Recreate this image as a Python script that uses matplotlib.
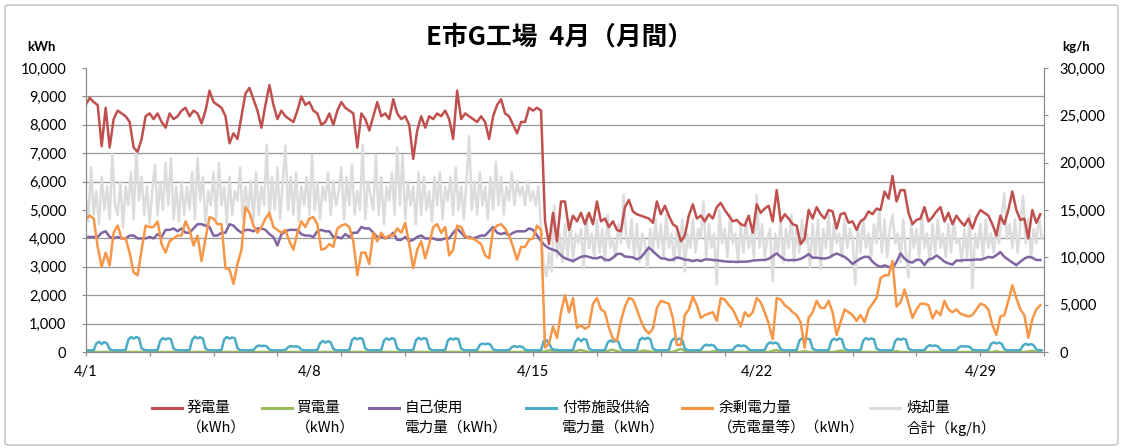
import numpy as np
import matplotlib
matplotlib.use("Agg")
import matplotlib.pyplot as plt
from matplotlib.lines import Line2D
from matplotlib.patches import FancyBboxPatch
from matplotlib.ticker import FixedLocator, FixedFormatter, NullFormatter, FuncFormatter

# ---------------- data (hours from 4/1 0:00) ----------------
STEP3 = 3   # hours between samples of the 3-hour series
STEP2 = 2   # hours between samples of the 2-hour series

date_labels = ["4/1", "4/8", "4/15", "4/22", "4/29"]
date_label_hours = [0, 168, 336, 504, 672]

# 発電量 (kWh), every 3 h
gen = [
    8700, 8950, 8800, 8700, 7250, 8600, 7200, 8200, 8500, 8400,
    8300, 8100, 7200, 7050, 7500, 8300, 8400, 8200, 8400, 8100,
    7900, 8400, 8200, 8300, 8500, 8600, 8300, 8500, 8400, 8050,
    8500, 9200, 8800, 8700, 8600, 8300, 7350, 7700, 7500, 8300,
    9100, 9300, 8900, 8500, 7900, 8700, 9400, 8700, 8200, 8500,
    8300, 8200, 8100, 8500, 9000, 8700, 8800, 8500, 8400, 8000,
    8100, 8400, 8000, 8500, 8800, 8600, 8500, 8400, 7200, 8400,
    8200, 7800, 8300, 8800, 8300, 8400, 8200, 8900, 8400, 8200,
    8300, 8000, 6800, 7800, 8300, 7900, 8300, 8200, 8400, 8300,
    8500, 8200, 7500, 9200, 8200, 8400, 8300, 8200, 8100, 8300,
    8100, 7500, 8300, 8700, 8900, 8400, 8300, 8000, 7700, 8100,
    8100, 8600, 8500, 8600, 8500, 4600, 3800, 4900, 3900, 5300,
    5300, 4300, 4800, 4600, 4900, 4500, 4900, 4500, 5300, 4600,
    4700, 4400, 4600, 4300, 4250, 5100, 5350, 4950, 4850, 4800,
    4750, 4700, 4550, 5300, 4850, 5150, 4800, 4500, 4400, 3900,
    4100, 4800, 5200, 4700, 4800, 4600, 4850, 4700, 5100, 5250,
    5000, 4800, 4600, 4650, 4500, 4450, 4800, 4200, 5200, 4900,
    5050, 5150, 4600, 5700, 4600, 4850, 4700, 4500, 4450, 3800,
    4000, 5000, 4700, 5100, 4850, 4700, 5000, 4950, 4350, 4850,
    4900, 4550, 4600, 4300, 4600, 4700, 4950, 4850, 5050, 5000,
    5650, 5400, 6200, 5300, 5700, 5700, 4900, 4500, 4650, 4700,
    5100, 4600, 4750, 4950, 5100, 4600, 4900, 4500, 4800, 4600,
    4450, 4700, 4350, 4750, 5000, 4900, 4800, 4500, 4100, 4800,
    4500, 5000, 5650, 5000, 4650, 4700, 4000, 5000, 4550, 4850,
]

# 買電量 (kWh), every 3 h
buy = [
    0, 0, 0, 0, 0, 0, 0, 0, 0, 0,
    0, 0, 0, 0, 0, 0, 0, 0, 0, 0,
    0, 0, 0, 0, 0, 0, 0, 0, 0, 0,
    0, 0, 0, 0, 0, 0, 0, 0, 0, 0,
    0, 0, 0, 0, 0, 0, 0, 0, 0, 0,
    0, 0, 0, 0, 0, 0, 0, 0, 0, 0,
    0, 0, 0, 0, 0, 0, 0, 0, 0, 0,
    0, 0, 0, 0, 0, 0, 0, 0, 0, 0,
    0, 0, 0, 0, 0, 0, 0, 0, 0, 0,
    0, 0, 0, 0, 0, 0, 0, 0, 0, 0,
    0, 0, 0, 0, 0, 0, 0, 0, 0, 0,
    0, 0, 0, 0, 0, 20, 60, 30, 0, 0,
    0, 0, 0, 40, 70, 30, 0, 0, 0, 0,
    0, 50, 80, 30, 0, 0, 0, 0, 0, 30,
    50, 20, 0, 0, 0, 0, 0, 0, 60, 110,
    40, 0, 0, 0, 0, 0, 0, 20, 40, 0,
    0, 0, 0, 0, 0, 0, 0, 0, 0, 30,
    0, 0, 40, 70, 0, 0, 0, 0, 0, 0,
    30, 0, 0, 0, 0, 0, 0, 0, 20, 50,
    20, 0, 0, 0, 0, 0, 0, 0, 0, 0,
    0, 0, 0, 30, 0, 0, 0, 0, 0, 0,
    0, 0, 0, 0, 0, 0, 0, 0, 0, 0,
    0, 0, 0, 0, 0, 0, 0, 0, 30, 0,
    0, 0, 0, 0, 0, 0, 20, 40, 0, 0,
]

# 自己使用電力量 (kWh), every 3 h
selfuse = [
    4050, 4050, 4050, 4050, 4200, 4250, 4050, 4000, 4050, 4000,
    4000, 4100, 4100, 4000, 4000, 4000, 4050, 4000, 4150, 4050,
    4300, 4300, 4350, 4250, 4350, 4200, 4200, 4350, 4500, 4500,
    4450, 4400, 4100, 4100, 4200, 4200, 4500, 4450, 4300, 4200,
    4300, 4300, 4250, 4350, 4350, 4300, 4150, 4050, 3750, 4150,
    4250, 4300, 4300, 4300, 4150, 4100, 4100, 4050, 4250, 4300,
    4250, 4250, 4050, 4050, 4000, 4150, 4050, 4200, 4200, 4400,
    4350, 4350, 4200, 4050, 4050, 4000, 4050, 4200, 3950, 3950,
    4050, 3900, 3950, 4050, 4100, 4000, 4000, 4000, 3950, 3950,
    4000, 4000, 4200, 4350, 4200, 4050, 4050, 4000, 4050, 4100,
    4100, 4250, 4400, 4200, 4150, 4200, 4100, 4200, 4250, 4250,
    4250, 4350, 4300, 4100, 3900, 3750, 3650, 3600, 3550, 3400,
    3300, 3250, 3200, 3280, 3350, 3380, 3350, 3300, 3300, 3350,
    3250, 3230, 3320, 3450, 3460, 3360, 3350, 3330, 3260, 3330,
    3500, 3680, 3550, 3420, 3300, 3290, 3240, 3250, 3330, 3300,
    3250, 3240, 3200, 3240, 3200, 3260, 3260, 3240, 3230, 3210,
    3190, 3180, 3180, 3170, 3180, 3180, 3190, 3220, 3230, 3240,
    3240, 3280, 3380, 3470, 3350, 3250, 3230, 3240, 3240, 3280,
    3350, 3450, 3320, 3320, 3300, 3290, 3320, 3400, 3470, 3410,
    3350, 3240, 3100, 3200, 3290, 3350, 3350, 3180, 3060, 3000,
    3050, 3000, 2950, 3170, 3470, 3290, 3180, 3150, 3250, 3240,
    3060, 3260, 3290, 3400, 3300, 3180, 3120, 3080, 3220, 3220,
    3240, 3240, 3240, 3260, 3250, 3290, 3350, 3320, 3410, 3520,
    3350, 3250, 3150, 3060, 3180, 3290, 3350, 3320, 3240, 3240,
]

# 付帯施設供給電力量 (kWh), every 2 h (one row per day)
aux = [
    60, 60, 60, 60, 300, 360, 280, 350, 300, 100, 60, 60,
    60, 60, 60, 70, 430, 530, 470, 530, 490, 130, 70, 60,
    60, 60, 60, 70, 400, 490, 440, 480, 450, 120, 70, 60,
    60, 60, 60, 70, 430, 540, 480, 520, 470, 120, 70, 60,
    60, 60, 60, 70, 440, 530, 470, 510, 480, 130, 70, 60,
    60, 60, 60, 70, 180, 230, 210, 220, 200, 90, 60, 60,
    60, 60, 60, 70, 170, 210, 190, 200, 180, 80, 60, 60,
    60, 60, 60, 70, 300, 390, 330, 380, 340, 110, 60, 60,
    60, 60, 60, 70, 420, 500, 450, 490, 460, 120, 70, 60,
    60, 60, 60, 70, 400, 480, 430, 490, 450, 120, 70, 60,
    60, 60, 60, 70, 410, 500, 440, 490, 460, 120, 70, 60,
    60, 60, 60, 70, 400, 480, 440, 480, 450, 120, 70, 60,
    60, 60, 60, 70, 250, 300, 270, 300, 260, 100, 60, 60,
    60, 60, 60, 70, 170, 210, 180, 200, 180, 80, 60, 60,
    60, 60, 60, 70, 380, 420, 300, 120, 80, 70, 60, 60,
    60, 60, 60, 70, 380, 480, 380, 460, 430, 120, 70, 60,
    60, 60, 60, 70, 330, 410, 360, 400, 370, 110, 60, 60,
    60, 60, 60, 70, 420, 500, 450, 500, 460, 120, 70, 60,
    60, 60, 60, 70, 390, 480, 430, 470, 440, 120, 70, 60,
    60, 60, 60, 70, 200, 260, 230, 250, 220, 90, 60, 60,
    60, 60, 60, 70, 190, 240, 210, 230, 200, 90, 60, 60,
    60, 60, 60, 70, 270, 340, 300, 330, 290, 100, 60, 60,
    60, 60, 60, 70, 400, 480, 430, 470, 440, 120, 70, 60,
    60, 60, 60, 70, 390, 470, 420, 480, 440, 120, 70, 60,
    60, 60, 60, 70, 400, 490, 440, 480, 450, 120, 70, 60,
    60, 60, 60, 70, 390, 470, 430, 470, 440, 120, 70, 60,
    60, 60, 60, 70, 190, 240, 210, 230, 200, 90, 60, 60,
    60, 60, 60, 70, 170, 210, 190, 200, 180, 80, 60, 60,
    60, 60, 60, 70, 280, 340, 300, 330, 290, 100, 60, 60,
    60, 60, 60, 70, 230, 290, 250, 280, 240, 90, 60, 60,
]

# 余剰電力量（売電量等） (kWh), every 3 h
surplus = [
    4700, 4800, 4700, 3700, 3000, 3500, 3050, 4200, 4450, 4000,
    4000, 3500, 2800, 2700, 3600, 4450, 4400, 4400, 4600, 3800,
    3500, 3900, 4000, 4100, 4100, 4600, 4300, 3750, 4100, 3200,
    4000, 4750, 4700, 4500, 4500, 2950, 2900, 2400, 3100, 3600,
    5100, 4900, 4450, 4200, 4400, 4700, 4900, 4400, 4300, 4200,
    4300, 3900, 3600, 4200, 4600, 4400, 4700, 4750, 4500, 3600,
    3650, 3800, 3700, 4350, 4450, 4500, 4400, 3900, 2700, 3500,
    3500, 3100, 4200, 3900, 4200, 4000, 4100, 4100, 4350, 4200,
    4550, 3800, 2950, 3600, 3900, 3300, 3800, 4400, 4500, 4200,
    4400, 3400, 3600, 4450, 4400, 4100, 4000, 4000, 3900, 3800,
    3400, 3300, 4300, 4450, 4500, 4350, 4100, 3700, 3250, 3700,
    3700, 3950, 4000, 4450, 4300, 150, 300, 900, 500, 1400,
    2000, 1400, 1900, 850, 940, 820, 900, 1700, 1900, 1500,
    1400, 850, 470, 400, 1100, 1600, 1900, 1850, 1500, 1100,
    800, 650, 820, 1550, 1800, 1750, 1700, 1200, 250, 250,
    1300, 1500, 1950, 1650, 1200, 1300, 1350, 1400, 1100, 1900,
    1850, 1650, 1500, 1200, 900, 1400, 1250, 1400, 1900, 1750,
    1400, 1000, 450, 1900, 1850, 1650, 1550, 1400, 1300, 1050,
    150, 1200, 1400, 1800, 1550, 1550, 1800, 1400, 600, 1050,
    1500, 1400, 1300, 1100, 1300, 1050, 1500, 1700, 1900, 2600,
    2700, 2700, 3200, 1600, 1750, 2200, 1700, 1200, 1500, 1700,
    1700, 1650, 1180, 1450, 1300, 1800, 1500, 1400, 1500, 1350,
    1300, 1250, 1300, 1500, 1700, 1650, 1500, 950, 600, 1250,
    1300, 1800, 2350, 1900, 1500, 1300, 500, 1150, 1500, 1650,
]

# 焼却量合計 (kg/h), every 2 h (one row per day)
burn = [
    16500, 13800, 19500, 14500, 17000, 13500, 18500, 15000, 17500, 14000, 21000, 15500,
    14500, 18000, 13200, 17500, 15500, 19000, 14000, 21400, 16000, 18500, 14500, 17500,
    13500, 17000, 19800, 14500, 18000, 15000, 20000, 15500, 20500, 14000, 17500, 13800,
    18000, 14500, 17500, 15000, 19000, 14000, 20500, 16000, 18500, 13500, 17000, 15500,
    19000, 14000, 20000, 15500, 17500, 13500, 18500, 14500, 17000, 16000, 19500, 14000,
    17500, 15000, 18000, 13800, 19000, 14500, 17500, 15500, 21900, 14000, 18500, 15000,
    19500, 14000, 18000, 21800, 15000, 18500, 14500, 19000, 13800, 17500, 15500, 18500,
    14500, 20800, 15000, 18000, 14000, 17500, 16000, 19000, 14500, 18000, 15500, 17000,
    19500, 14000, 18500, 15500, 19800, 14500, 17000, 15000, 21900, 14000, 18000, 16500,
    15000, 20800, 14500, 18500, 13500, 17500, 16000, 19000, 14500, 21600, 15500, 20800,
    14000, 18000, 15500, 17500, 13500, 19000, 14500, 18500, 15000, 17000, 13800, 18500,
    15500, 19000, 14000, 17500, 16000, 18500, 14500, 19500, 15000, 17500, 14000, 18000,
    22800, 15000, 18000, 14500, 19000, 15500, 17500, 14000, 18500, 15000, 20100, 15500,
    18500, 14500, 17500, 16000, 19000, 15500, 18000, 16500, 17500, 15500, 18000, 16000,
    17000, 15500, 17500, 13000, 9000, 8000, 10500, 8500, 15500, 10000, 12500, 9500,
    13500, 10000, 14000, 9500, 12500, 11500, 13000, 8800, 14500, 11000, 12500, 10000,
    14000, 10500, 13000, 9500, 14500, 11000, 12000, 10000, 13500, 11500, 16600, 12000,
    11000, 14000, 10000, 13500, 9500, 12500, 11500, 8800, 13000, 10500, 14000, 11000,
    13500, 10000, 14500, 11000, 12500, 9500, 13000, 10000, 14000, 8500, 12500, 11000,
    14000, 10500, 13000, 12000, 15900, 10000, 13500, 11000, 12500, 7100, 15000, 11500,
    13000, 10000, 14500, 11500, 12500, 9500, 13500, 10500, 14000, 11000, 12500, 10000,
    16600, 11000, 13500, 10000, 12000, 13000, 7500, 12500, 10500, 14000, 9500, 13000,
    11000, 14500, 9500, 13000, 10500, 14000, 11500, 12500, 9000, 13500, 10000, 14000,
    8800, 13000, 11000, 14500, 10000, 13500, 11500, 12500, 10000, 14000, 11000, 13000,
    12000, 7100, 13500, 10500, 14000, 11000, 12500, 10000, 13500, 11500, 15000, 10500,
    14000, 10000, 13000, 14500, 11500, 12500, 9500, 14000, 10500, 7900, 13500, 11000,
    13000, 10000, 14500, 11000, 12500, 9500, 13500, 10500, 14000, 11000, 12500, 10000,
    13500, 10500, 14000, 11500, 12000, 9500, 13000, 10000, 14500, 6700, 12500, 11000,
    13500, 10000, 14000, 11000, 12500, 10500, 13000, 11500, 14500, 16800, 12000, 13500,
    11000, 14000, 10500, 13500, 16500, 11500, 14000, 10000, 13000, 11500, 14500, 12000,
]

series_names_1 = ["発電量", "買電量", "自己使用", "付帯施設供給", "余剰電力量", "焼却量"]
series_names_2 = ["（kWh）", "（kWh）", "電力量（kWh）", "電力量（kWh）", "（売電量等）（kWh）", "合計（kg/h）"]

# ---------------- style ----------------
C_RED, C_GREEN, C_PURPLE = "#C0504D", "#9BBB59", "#8064A2"
C_CYAN, C_ORANGE, C_GRAY = "#4BACC6", "#F79646", "#DCDCDC"
AXC = "#8C8C8C"
CJK = ["Noto Sans CJK JP", "DejaVu Sans"]
NUM = ["Lato", "DejaVu Sans"]

W, H, DPI = 1121, 448, 100
fig = plt.figure(figsize=(W / DPI, H / DPI), dpi=DPI)

def fx(px):
    return px / W

def fy(py):
    return 1 - py / H

left, right, top, bottom = 85.7, 1044.3, 68.0, 352.0
ax = fig.add_axes([fx(left), fy(bottom), fx(right - left), (bottom - top) / H])
ax2 = ax.twinx()
ax.set_zorder(ax2.get_zorder() + 1)
ax.patch.set_visible(False)

t3 = lambda a: np.arange(len(a)) * STEP3
t2 = lambda a: np.arange(len(a)) * STEP2

LW = 1.8
ax2.plot(t2(burn), burn, color=C_GRAY, lw=LW, solid_joinstyle="round")
ax.plot(t3(gen), gen, color=C_RED, lw=LW, solid_joinstyle="round")
ax.plot(t3(buy), buy, color=C_GREEN, lw=LW, solid_joinstyle="round")
ax.plot(t3(selfuse), selfuse, color=C_PURPLE, lw=LW, solid_joinstyle="round")
ax.plot(t2(aux), aux, color=C_CYAN, lw=LW, solid_joinstyle="round")
ax.plot(t3(surplus), surplus, color=C_ORANGE, lw=LW, solid_joinstyle="round")

ax.set_xlim(0, 720)
ax.set_ylim(0, 10000)
ax2.set_ylim(0, 30000)

# x axis: ticks every 2 days, labels weekly
ax.xaxis.remove_overlapping_locs = False
ax.xaxis.set_major_locator(FixedLocator(np.arange(0, 721, 48)))
ax.xaxis.set_major_formatter(NullFormatter())
ax.xaxis.set_minor_locator(FixedLocator(date_label_hours))
ax.xaxis.set_minor_formatter(FixedFormatter(date_labels))
ax.tick_params(axis="x", which="major", direction="out", length=3, width=0.8, color=AXC)
ax.tick_params(axis="x", which="minor", length=0, pad=9.5, labelsize=10.5)

# left axis
ax.set_yticks(np.arange(0, 10001, 1000))
ax.yaxis.set_major_formatter(FuncFormatter(lambda v, p: f"{v:,.0f}"))
ax.tick_params(axis="y", direction="out", length=3, width=0.8, color=AXC, pad=11, labelsize=10.5)

# right axis
ax2.set_yticks(np.arange(0, 30001, 5000))
ax2.yaxis.set_major_formatter(FuncFormatter(lambda v, p: f"{v:,.0f}"))
ax2.yaxis.set_minor_locator(FixedLocator(np.arange(0, 30001, 3000)))
ax2.tick_params(axis="y", which="major", direction="out", length=3, width=0.8, color=AXC, pad=8, labelsize=10.5)
ax2.tick_params(axis="y", which="minor", length=0)
ax2.grid(True, which="minor", axis="y", color="#979797", lw=0.9)
ax2.grid(False, which="major")

for a in (ax, ax2):
    for lab in a.get_xticklabels(minor=True) + a.get_yticklabels():
        lab.set_fontfamily(NUM)

for s in ("top", "right"):
    ax.spines[s].set_visible(False)
for s in ("left", "bottom"):
    ax.spines[s].set_color(AXC)
    ax.spines[s].set_linewidth(0.9)
for s in ("top", "left", "bottom"):
    ax2.spines[s].set_visible(False)
ax2.spines["right"].set_color(AXC)
ax2.spines["right"].set_linewidth(0.9)

# texts
fig.text(fx(560), fy(37), "E市G工場  4月（月間）", family=CJK, fontsize=18.5,
         fontweight="bold", ha="center", va="center")
fig.text(fx(41), fy(47), "kWh", family=NUM, fontsize=9.5, fontweight="bold",
         ha="center", va="center")
fig.text(fx(1076), fy(47), "kg/h", family=NUM, fontsize=9.5, fontweight="bold",
         ha="center", va="center")

# legend (drawn manually, two-line labels)
leg_colors = [C_RED, C_GREEN, C_PURPLE, C_CYAN, C_ORANGE, C_GRAY]
leg_line_x = [(152, 182), (262, 292), (369, 399), (526, 556), (682, 712), (870, 900)]
leg_text_x = [187, 296, 405, 562, 718, 906]
y1, y2 = 408, 428
for (xa, xb), xt, col, n1, n2 in zip(leg_line_x, leg_text_x, leg_colors,
                                     series_names_1, series_names_2):
    fig.add_artist(Line2D([fx(xa), fx(xb)], [fy(y1), fy(y1)], color=col, lw=2.2,
                          transform=fig.transFigure))
    fig.text(fx(xt), fy(y1), n1, family=CJK, fontsize=10.5, ha="left", va="center")
    fig.text(fx(xt), fy(y2), n2, family=CJK, fontsize=10.5, ha="left", va="center")

# chart border
fig.add_artist(FancyBboxPatch((fx(5), fy(445)), fx(1113), (440) / H,
                              boxstyle="round,pad=0,rounding_size=0.004",
                              transform=fig.transFigure, fill=False,
                              edgecolor="#BFBFBF", lw=1.0))

fig.savefig("out.png", dpi=DPI)
